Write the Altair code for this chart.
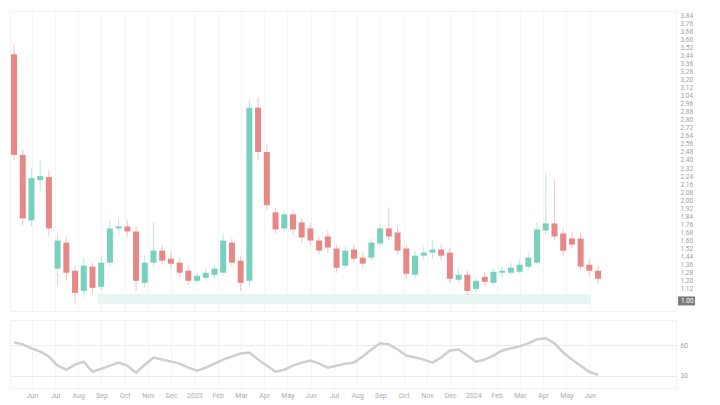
import altair as alt
import pandas as pd

# ---- candle data ----
opens = [3.45, 2.45, 1.80, 2.20, 2.23, 1.32, 1.58, 1.30, 1.10, 1.34,
         1.14, 1.38, 1.72, 1.74, 1.69, 1.18, 1.38, 1.50, 1.42, 1.38,
         1.30, 1.20, 1.23, 1.26, 1.28, 1.58, 1.40, 1.20, 2.92, 2.48,
         1.88, 1.72, 1.86, 1.78, 1.72, 1.60, 1.64, 1.52, 1.35, 1.51,
         1.43, 1.43, 1.57, 1.72, 1.68, 1.52, 1.26, 1.45, 1.48, 1.51,
         1.48, 1.21, 1.26, 1.12, 1.24, 1.18, 1.28, 1.28, 1.29, 1.34,
         1.38, 1.70, 1.77, 1.67, 1.62, 1.62, 1.36, 1.30]
closes = [2.45, 1.82, 2.22, 2.24, 1.72, 1.60, 1.28, 1.08, 1.35, 1.13,
          1.38, 1.72, 1.74, 1.69, 1.20, 1.38, 1.50, 1.40, 1.37, 1.28,
          1.20, 1.25, 1.28, 1.32, 1.60, 1.38, 1.18, 2.92, 2.48, 1.95,
          1.71, 1.86, 1.71, 1.63, 1.60, 1.50, 1.53, 1.33, 1.50, 1.42,
          1.37, 1.58, 1.72, 1.64, 1.50, 1.27, 1.45, 1.48, 1.51, 1.45,
          1.22, 1.26, 1.10, 1.20, 1.19, 1.29, 1.30, 1.33, 1.36, 1.43,
          1.71, 1.77, 1.64, 1.50, 1.56, 1.34, 1.30, 1.22]
highs = [3.55, 2.50, 2.32, 2.40, 2.30, 1.67, 1.64, 1.35, 1.42, 1.38,
         1.45, 1.80, 1.82, 1.80, 1.74, 1.45, 1.78, 1.55, 1.48, 1.42,
         1.34, 1.28, 1.32, 1.36, 1.67, 1.62, 1.45, 3.00, 3.02, 2.55,
         1.92, 1.90, 1.90, 1.82, 1.78, 1.64, 1.70, 1.56, 1.54, 1.56,
         1.48, 1.62, 1.76, 1.93, 1.74, 1.56, 1.50, 1.54, 1.60, 1.56,
         1.52, 1.32, 1.30, 1.24, 1.28, 1.32, 1.34, 1.38, 1.42, 1.48,
         1.78, 2.27, 2.20, 1.72, 1.68, 1.68, 1.42, 1.35]
lows = [2.40, 1.75, 1.74, 2.10, 1.64, 1.15, 1.20, 0.98, 1.04, 1.07,
        1.10, 1.34, 1.66, 1.64, 1.10, 1.13, 1.34, 1.36, 1.33, 1.24,
        1.16, 1.17, 1.20, 1.22, 1.25, 1.34, 1.10, 1.15, 2.40, 1.90,
        1.67, 1.68, 1.66, 1.58, 1.55, 1.46, 1.48, 1.28, 1.32, 1.38,
        1.33, 1.40, 1.54, 1.60, 1.46, 1.22, 1.22, 1.40, 1.42, 1.40,
        1.18, 1.18, 1.06, 1.08, 1.15, 1.15, 1.24, 1.26, 1.27, 1.32,
        1.36, 1.66, 1.60, 1.45, 1.52, 1.30, 1.24, 1.17]

# ---- lower indicator pane ----
indicator = [63, 61, 57, 54, 49, 40, 36, 41, 44, 34,
             37, 40, 43, 40, 33, 41, 48, 46, 44, 42,
             38, 35, 38, 42, 46, 49, 52, 53, 46, 40,
             34, 36, 40, 43, 45, 42, 38, 40, 42, 43,
             49, 56, 62, 61, 56, 50, 48, 46, 43, 48,
             55, 56, 50, 44, 46, 50, 55, 57, 59, 62,
             66, 67, 62, 53, 46, 40, 34, 31]

# ---- faint volume band ----
band_start = [9.6]
band_end = [66.2]
band_low = [0.97]
band_high = [1.07]

# ---- last price label ----
last_price = [1.00]
last_text = ["1.00"]

x_labels = ["Jun", "Jul", "Aug", "Sep", "Oct", "Nov", "Dec", "2023", "Feb",
            "Mar", "Apr", "May", "Jun", "Jul", "Aug", "Sep", "Oct", "Nov",
            "Dec", "2024", "Feb", "Mar", "Apr", "May", "Jun"]

GREEN = "#78d1be"
RED = "#e88787"
FONT = "Roboto"

n = len(opens)
df = pd.DataFrame({
    "i": list(range(n)),
    "open": opens, "close": closes, "high": highs, "low": lows,
    "ind": indicator,
})
df["dir"] = ["up" if c >= o else "down" for o, c in zip(opens, closes)]

band_df = pd.DataFrame({"s": band_start, "e": band_end, "lo": band_low, "hi": band_high})
last_df = pd.DataFrame({"p": last_price, "t": last_text})

W = 666
STEP = 8.85  # px between candles
x0 = 1.0 / STEP          # first candle sits right at the left edge
x_dom = [x0, x0 + W / STEP]
tick_pos = [2.03 + k * 8 / 3 for k in range(len(x_labels))]
label_expr = "[" + ",".join("'%s'" % s for s in x_labels) + "][round((datum.value - 2.03) * 3 / 8)]"
price_ticks = [round(0.96 + 0.08 * k, 2) for k in range(37)]
price_ticks = [p for p in price_ticks if abs(p - last_price[0]) > 0.07]

x_scale = alt.Scale(domain=x_dom, nice=False, zero=False)
y_scale = alt.Scale(domain=[0.90, 3.88], nice=False, zero=False)

x_axis_main = alt.Axis(values=tick_pos, labels=False, ticks=False, domain=False,
                       grid=True, gridColor="#f4f4f4", title=None)
y_axis_main = alt.Axis(orient="right", values=price_ticks, format=".2f", grid=False,
                       ticks=False, domain=False, labelFontSize=6.5, labelColor="#a0a0a0",
                       labelPadding=4, labelFont=FONT, title=None)

color = alt.Color("dir:N", scale=alt.Scale(domain=["up", "down"], range=[GREEN, RED]), legend=None)

band = alt.Chart(band_df).mark_rect(color="#e8f5f3").encode(
    x=alt.X("s:Q", scale=x_scale, axis=x_axis_main),
    x2="e:Q",
    y=alt.Y("lo:Q", scale=y_scale, axis=y_axis_main),
    y2="hi:Q",
)

wicks = alt.Chart(df).mark_rule(strokeWidth=1, opacity=0.5).encode(
    x=alt.X("i:Q", scale=x_scale, axis=x_axis_main),
    y=alt.Y("low:Q", scale=y_scale, axis=y_axis_main),
    y2="high:Q",
    color=color,
)

bodies = alt.Chart(df).mark_bar(size=6).encode(
    x=alt.X("i:Q", scale=x_scale, axis=x_axis_main),
    y=alt.Y("open:Q", scale=y_scale, axis=y_axis_main),
    y2="close:Q",
    color=color,
)

last_box = alt.Chart(last_df).mark_rule(strokeWidth=9, color="#7a7a7a").encode(
    x=alt.value(W + 2), x2=alt.value(W + 19),
    y=alt.Y("p:Q", scale=y_scale, axis=y_axis_main),
)
last_lbl = alt.Chart(last_df).mark_text(align="left", baseline="middle", fontSize=6.5,
                                        color="white", font=FONT, dx=3).encode(
    x=alt.value(W + 2),
    y=alt.Y("p:Q", scale=y_scale, axis=y_axis_main),
    text="t:N",
)

main = alt.layer(band, wicks, bodies, last_box, last_lbl).properties(width=W, height=300)

lower = alt.Chart(df).mark_line(color="#cfcfcf", strokeWidth=2.5).encode(
    x=alt.X("i:Q", scale=x_scale,
            axis=alt.Axis(values=tick_pos, labelExpr=label_expr, ticks=False, domain=False,
                          grid=True, gridColor="#f4f4f4", labelFontSize=7, labelColor="#acacac",
                          labelPadding=3, labelFont=FONT, title=None,
                          labelOverlap=False)),
    y=alt.Y("ind:Q", scale=alt.Scale(domain=[18, 85], nice=False, zero=False),
            axis=alt.Axis(orient="right", values=[30, 60], grid=True, gridColor="#ececec",
                          ticks=False, domain=False, labelFontSize=6.5, labelColor="#a0a0a0",
                          labelPadding=4, labelFont=FONT, title=None)),
).properties(width=W, height=68)

chart = alt.vconcat(main, lower, spacing=7).properties(
    padding={"left": 0, "top": 2, "right": 0, "bottom": 2},
    background="white",
).configure_view(stroke="#f2f2f2").resolve_scale(x="shared")

chart.save("out.html", embed_options={"renderer": "svg", "actions": False})
